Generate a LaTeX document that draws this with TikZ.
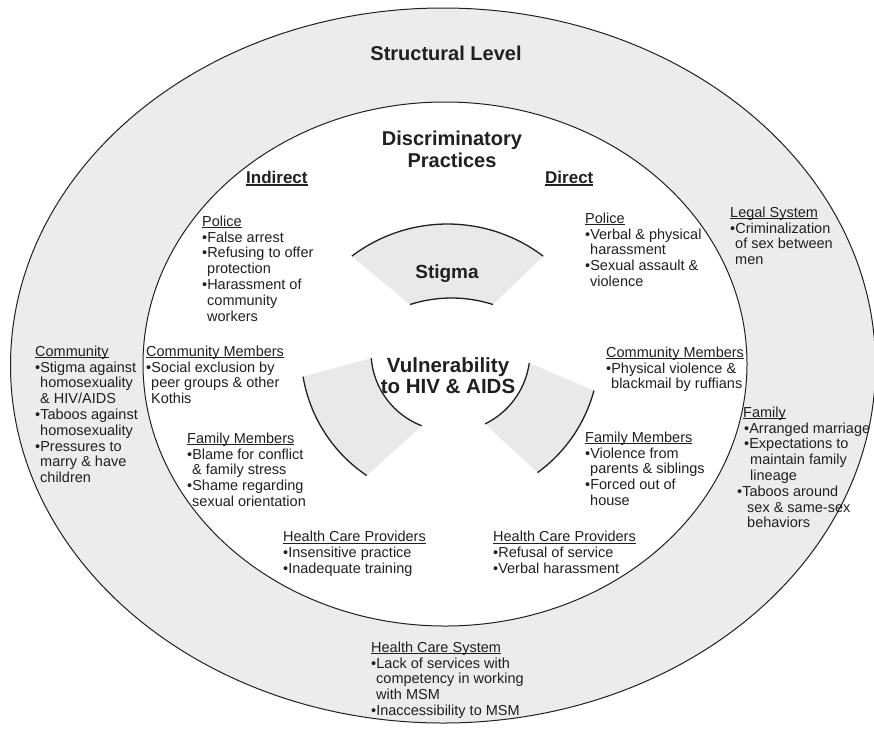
\documentclass[tikz,border=0pt]{standalone}
\usepackage{fontspec}
\setmainfont{Liberation Sans}
\usetikzlibrary{calc}
\definecolor{ring}{RGB}{236,236,236}
\definecolor{fan}{RGB}{233,233,233}
\definecolor{ink}{RGB}{32,32,32}
\newcommand\ulh[1]{\setbox0\hbox{#1}\rlap{\color{ink}\rule[-1.8pt]{\wd0}{0.75pt}}\box0}
\newcommand\ulhb[1]{\setbox0\hbox{#1}\rlap{\color{ink}\rule[-2.6pt]{\wd0}{1.2pt}}\box0}
\newcommand\ind{\hspace*{5pt}}
\begin{document}
\begin{tikzpicture}[x=1pt,y=1pt,
  body/.style={anchor=north west, inner sep=0pt, align=left, text=ink, font=\fontsize{14.5}{15.8}\selectfont},
  bigtitle/.style={inner sep=0pt, align=center, text=ink, font=\bfseries\fontsize{20}{22}\selectfont},
  subhead/.style={anchor=base west, inner sep=0pt, text=ink, font=\bfseries\fontsize{17}{20}\selectfont},
  outline/.style={draw=ink, line width=1pt},
  fanline/.style={draw=ink, line width=1.3pt}]
\useasboundingbox (0,0) rectangle (874,-732);
\fill[white] (0,0) rectangle (874,-732);
% rings
\path[outline, fill=ring] (443,-365.5) ellipse [x radius=432.5, y radius=357.5];
\path[outline, fill=white] (445,-364) ellipse [x radius=302, y radius=262];
% stigma fan
\coordinate (sU) at (447.5,-382.5);
\coordinate (sL) at (451.5,-433.7);
\fill[fan] ($(sU)+(52.9:158.5)$) arc[start angle=52.9, end angle=127.1, radius=158.5]
  -- ($(sL)+(107.8:135.7)$) arc[start angle=107.8, end angle=72.2, radius=135.7] -- cycle;
\draw[fanline] ($(sU)+(52.9:158.5)$) arc[start angle=52.9, end angle=127.1, radius=158.5];
\draw[fanline] ($(sL)+(107.8:135.7)$) arc[start angle=107.8, end angle=72.2, radius=135.7];
% vulnerability fans
\coordinate (V) at (450,-352);
\fill[fan] ($(V)+(184.5:79)$) arc[start angle=184.5, end angle=249, radius=79]
  -- ($(V)+(236:149)$) arc[start angle=236, end angle=189.5, radius=149] -- cycle;
\fill[fan] ($(V)+(-8:80)$) arc[start angle=-8, end angle=-64, radius=80]
  -- ($(V)+(-54:149)$) arc[start angle=-54, end angle=-15, radius=149] -- cycle;
\draw[fanline] ($(V)+(184.5:79)$) arc[start angle=184.5, end angle=249, radius=79];
\draw[fanline] ($(V)+(189.5:149)$) arc[start angle=189.5, end angle=236, radius=149];
\draw[fanline] ($(V)+(-8:80)$) arc[start angle=-8, end angle=-64, radius=80];
\draw[fanline] ($(V)+(-15:149)$) arc[start angle=-15, end angle=-54, radius=149];
% titles
\node[bigtitle, anchor=base] (struct) at (446,-60) {Structural Level};
\node[bigtitle, anchor=north] (disc) at (452,-130.7) {Discriminatory\\Practices};
\node[subhead] (indirect) at (246,-183) {\ulhb{Indirect}};
\node[subhead] (direct) at (545,-183) {\ulhb{Direct}};
\node[anchor=base, inner sep=0pt, text=ink, font=\bfseries\fontsize{19}{22}\selectfont] (stigma) at (447,-278) {Stigma};
\node[anchor=north, inner sep=0pt, align=center, text=ink, font=\bfseries\fontsize{20.5}{21}\selectfont] (vuln) at (448,-357.3) {Vulnerability\\to HIV \& AIDS};
% indirect
\node[body] (polI) at (202,-215.6) {\ulh{Police}\\•False arrest\\•Refusing to offer\\\ind protection\\•Harassment of\\\ind community\\\ind workers};
\node[body] (comI) at (146,-345.6) {\ulh{Community Members}\\•Social exclusion by\\\ind peer groups \& other\\\ind Kothis};
\node[body] (famI) at (187,-432.6) {\ulh{Family Members}\\•Blame for conflict\\\ind \& family stress\\•Shame regarding\\\ind sexual orientation};
\node[body] (hcpI) at (283,-531) {\ulh{Health Care Providers}\\•Insensitive practice\\•Inadequate training};
% direct
\node[body] (polD) at (585,-212.6) {\ulh{Police}\\•Verbal \& physical\\\ind harassment\\•Sexual assault \&\\\ind violence};
\node[body] (comD) at (606,-346.6) {\ulh{Community Members}\\•Physical violence \&\\\ind blackmail by ruffians};
\node[body] (famD) at (585,-431.6) {\ulh{Family Members}\\•Violence from\\\ind parents \& siblings\\•Forced out of\\\ind house};
\node[body] (hcpD) at (493,-531) {\ulh{Health Care Providers}\\•Refusal of service\\•Verbal harassment};
% structural
\node[body] (comS) at (35,-345.6) {\ulh{Community}\\•Stigma against\\\ind homosexuality\\\ind \& HIV/AIDS\\•Taboos against\\\ind homosexuality\\•Pressures to\\\ind marry \& have\\\ind children};
\node[body] (legal) at (730,-206.6) {\ulh{Legal System}\\•Criminalization\\\ind of sex between\\\ind men};
\node[body] (famS) at (737,-406.6) {\hspace*{6pt}\ulh{Family}\\\hspace*{7pt}•Arranged marriage\\\hspace*{7pt}•Expectations to\\\hspace*{13pt}maintain family\\\hspace*{13pt}lineage\\•Taboos around\\\hspace*{10pt}sex \& same-sex\\\hspace*{10pt}behaviors};
\node[body] (hcs) at (371,-641.6) {\ulh{Health Care System}\\•Lack of services with\\\ind competency in working\\\ind with MSM\\•Inaccessibility to MSM};
\end{tikzpicture}
\end{document}
